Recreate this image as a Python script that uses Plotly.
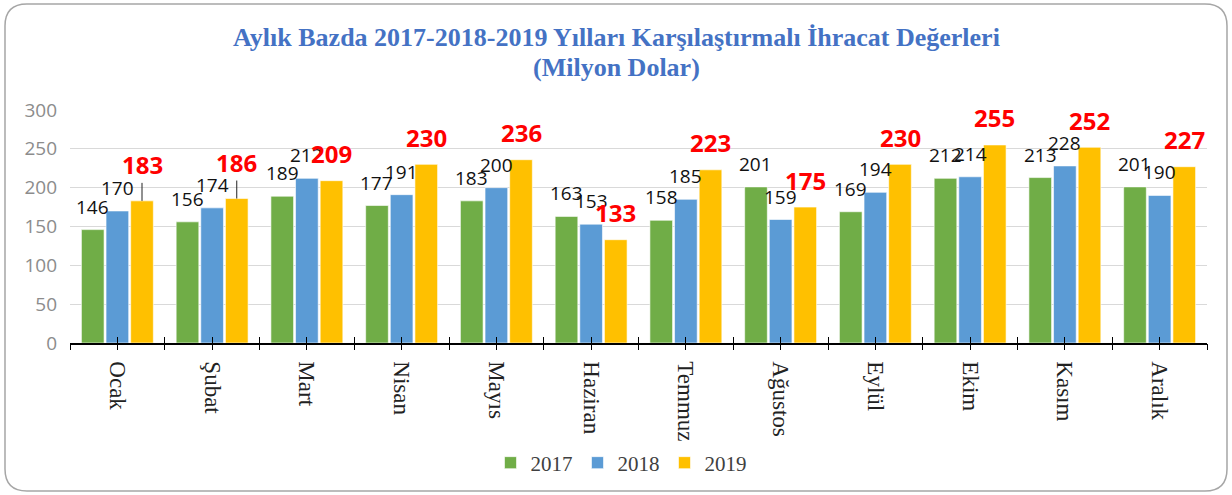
import plotly.graph_objects as go

# Veriler
months = ["Ocak", "Şubat", "Mart", "Nisan", "Mayıs", "Haziran",
          "Temmuz", "Ağustos", "Eylül", "Ekim", "Kasım", "Aralık"]
v2017 = [146, 156, 189, 177, 183, 163, 158, 201, 169, 212, 213, 201]
v2018 = [170, 174, 212, 191, 200, 153, 185, 159, 194, 214, 228, 190]
v2019 = [183, 186, 209, 230, 236, 133, 223, 175, 230, 255, 252, 227]
years = ["2017", "2018", "2019"]
colors = ["#70AD47", "#5B9BD5", "#FFC000"]
raised = ["Ocak", "Şubat"]  # 2019 etiketleri yukarı alınmış (kılavuz çizgili)
title_lines = ["Aylık Bazda 2017-2018-2019 Yılları Karşılaştırmalı İhracat Değerleri",
               "(Milyon Dolar)"]

# Sayfa ölçüleri
W, H = 1232, 495
L, R, T, B = 70, 25, 110, 152
pw, ph = W - L - R, H - T - B
bargap = 0.22
slot = pw / len(months) * (1 - bargap) / 3


def px2paper(x, y):
    return (x - L) / pw, (H - B - y) / ph


fig = go.Figure()
for name, vals, col in zip(years, [v2017, v2018, v2019], colors):
    fig.add_trace(go.Bar(
        x=months, y=vals, name=name,
        marker=dict(color=col, line=dict(color="white", width=0.6)),
        hoverinfo="x+y+name"
    ))

# Veri etiketleri
annotations = []
for i, vals in enumerate([v2017, v2018, v2019]):
    for m, v in zip(months, vals):
        if i < 2:
            annotations.append(dict(
                x=m, y=v, text=str(v), showarrow=False, xshift=(i - 1) * slot,
                yshift=23, yanchor="middle",
                font=dict(family="Open Sans", size=19, color="#111111")
            ))
        elif m in raised:
            annotations.append(dict(
                x=m, y=v, text="<b>%d</b>" % v, showarrow=True, arrowhead=0,
                arrowwidth=1, arrowcolor="#222222", ax=0, ay=-36, standoff=0,
                xshift=(i - 1) * slot,
                font=dict(family="Open Sans", size=24, color="#FF0000")
            ))
        else:
            annotations.append(dict(
                x=m, y=v, text="<b>%d</b>" % v, showarrow=False, xshift=(i - 1) * slot,
                yshift=27, yanchor="middle",
                font=dict(family="Open Sans", size=24, color="#FF0000")
            ))

# Başlık (iki satır)
for line, ypx in zip(title_lines, [37, 67]):
    annotations.append(dict(
        x=0.5, xref="paper", y=px2paper(0, ypx)[1], yref="paper",
        text="<b>%s</b>" % line, showarrow=False, xanchor="center", yanchor="middle",
        xshift=616 - (L + pw / 2),
        font=dict(family="Liberation Serif", size=26, color="#4472C4")
    ))

# Yuvarlatılmış çerçeve
x0, y0, x1, y1, r = 5, 4, 1227, 491, 22
pts = [
    ("M", (x0 + r, y0)), ("L", (x1 - r, y0)), ("Q", (x1, y0), (x1, y0 + r)),
    ("L", (x1, y1 - r)), ("Q", (x1, y1), (x1 - r, y1)),
    ("L", (x0 + r, y1)), ("Q", (x0, y1), (x0, y1 - r)),
    ("L", (x0, y0 + r)), ("Q", (x0, y0), (x0 + r, y0)),
]
path = ""
for p in pts:
    coords = " ".join("%.5f,%.5f" % px2paper(*c) for c in p[1:])
    path += p[0] + " " + coords + " "
path += "Z"

# Ek eksen (orta ve sınır tik işaretleri)
tick_pos = [k * 0.5 - 0.5 for k in range(2 * len(months) + 1)]

fig.update_layout(
    width=W, height=H,
    margin=dict(l=L, r=R, t=T, b=B, autoexpand=False),
    paper_bgcolor="white", plot_bgcolor="white",
    barmode="group", bargap=bargap, bargroupgap=0.08,
    xaxis=dict(
        type="category", tickangle=90, showgrid=False,
        showline=True, linecolor="black", linewidth=1.5,
        ticks="", ticklabelstandoff=12,
        tickfont=dict(family="Liberation Serif", size=23, color="#222222"),
        range=[-0.5, 11.5]
    ),
    xaxis2=dict(
        overlaying="x", anchor="y", side="bottom", range=[-0.5, 11.5],
        tickvals=tick_pos, showticklabels=False, ticks="outside", ticklen=6,
        tickcolor="black", showgrid=False, zeroline=False, showline=False
    ),
    xaxis3=dict(
        overlaying="x", anchor="y", side="bottom", range=[-0.5, 11.5],
        tickvals=tick_pos, showticklabels=False, ticks="inside", ticklen=6,
        tickcolor="black", showgrid=False, zeroline=False, showline=False
    ),
    yaxis=dict(
        range=[0, 300], dtick=50, showgrid=True, gridcolor="#D9D9D9", gridwidth=1,
        zeroline=False, showline=False, ticks="", ticklabelstandoff=12,
        tickfont=dict(family="Open Sans", size=19, color="#8C8C8C")
    ),
    legend=dict(
        orientation="h", x=px2paper(621, 0)[0], xanchor="center",
        y=px2paper(0, 463)[1], yanchor="middle",
        font=dict(family="Liberation Serif", size=21, color="#404040"),
        itemwidth=30, traceorder="normal"
    ),
    annotations=annotations,
    shapes=[dict(type="path", path=path, xref="paper", yref="paper",
                 line=dict(color="#A6A6A6", width=1.5), layer="below")],
)

# Görünmez izler ek eksenleri etkinleştirmek için
fig.add_trace(go.Scatter(x=[0], y=[0], xaxis="x2", mode="markers",
                         marker=dict(opacity=0), showlegend=False, hoverinfo="skip"))
fig.add_trace(go.Scatter(x=[0], y=[0], xaxis="x3", mode="markers",
                         marker=dict(opacity=0), showlegend=False, hoverinfo="skip"))

fig.write_html("out.html", config={"displayModeBar": False},
               post_script="document.body.style.margin='0';")
